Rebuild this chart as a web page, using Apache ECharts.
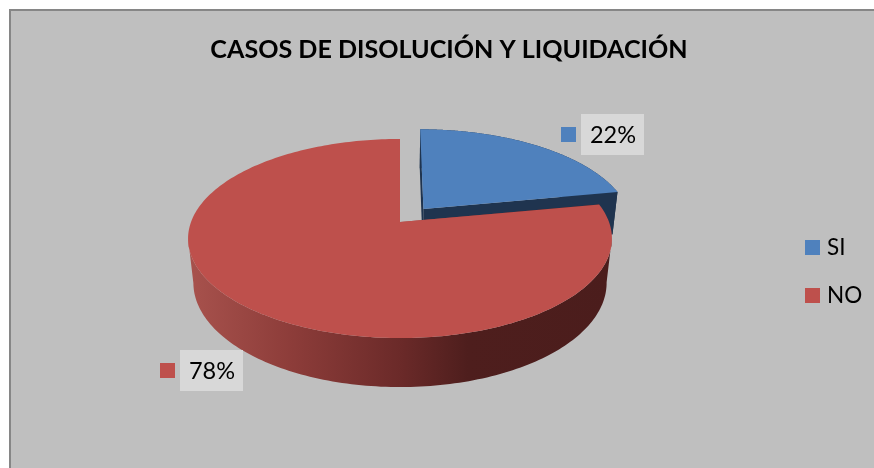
<!DOCTYPE html>
<html>
<head>
<meta charset="utf-8">
<style>html,body{margin:0;padding:0;background:#fff}#c{width:874px;height:468px}</style>
<script src="https://cdn.jsdelivr.net/npm/echarts@6/dist/echarts.min.js"></script>
</head>
<body>
<div id="c"></div>
<script>
const titleText = 'CASOS DE DISOLUCIÓN Y LIQUIDACIÓN';
const categories = ['SI', 'NO'];
const values = [22, 78];
const topColors = ['#4f81bd', '#be504c'];
const wallColors = ['#1f344f', null];
const labelBoxes = [[581, 114], [180, 350]];

const total = values.reduce((a, b) => a + b, 0);
const CX = 400, CY = 222, A = 209, B = 96.8, K = 0.166, M = 0.025, H = 45;
const EXPLODE = [0.18, 0];

function project(X, Y, Z) {
  const w = 1 + K * Y + M * Z;
  return [CX + A * X / w, CY + (-B * Y + H * Z) / w];
}
function extremes(pts) {
  let lo = 0, hi = 0;
  pts.forEach((p, n) => { if (p[0] > pts[lo][0]) lo = n; if (p[0] < pts[hi][0]) hi = n; });
  return [Math.min(lo, hi), Math.max(lo, hi)];
}
function renderSlice(i) {
  return function (params, api) {
    const value = api.value(0);
    let before = 0;
    for (let j = 0; j < i; j++) before += values[j];
    const a0 = before / total * 2 * Math.PI;
    const a1 = (before + value) / total * 2 * Math.PI;
    const mid = (a0 + a1) / 2;
    const ox = Math.sin(mid) * EXPLODE[i], oy = Math.cos(mid) * EXPLODE[i];
    const N = 240;
    const arc = [], arcLow = [];
    for (let n = 0; n <= N; n++) {
      const t = a0 + (a1 - a0) * n / N;
      arc.push(project(ox + Math.sin(t), oy + Math.cos(t), 0));
      arcLow.push(project(ox + Math.sin(t), oy + Math.cos(t), 1));
    }
    const apex = project(ox, oy, 0), apexLow = project(ox, oy, 1);
    const wallFill = wallColors[i] || {
      type: 'linear', x: 0, y: 0, x2: 1, y2: 0,
      colorStops: [
        { offset: 0, color: '#a8524d' },
        { offset: 0.25, color: '#8c3c39' },
        { offset: 0.5, color: '#6b2a29' },
        { offset: 0.66, color: '#4e1e1d' },
        { offset: 1, color: '#4b1d1c' }
      ]
    };
    const et = extremes(arc), el = extremes(arcLow);
    const wall = arc.slice(et[0], et[1] + 1).concat(arcLow.slice(el[0], el[1] + 1).reverse());
    const children = [];
    children.push({ type: 'polygon', shape: { points: [apex, arc[0], arcLow[0], apexLow] }, style: { fill: wallFill } });
    children.push({ type: 'polygon', shape: { points: [apex, arc[N], arcLow[N], apexLow] }, style: { fill: wallFill } });
    children.push({ type: 'polygon', shape: { points: wall }, style: { fill: wallFill } });
    children.push({ type: 'polygon', shape: { points: [apex].concat(arc) }, style: { fill: topColors[i] } });
    const bx = labelBoxes[i][0], by = labelBoxes[i][1];
    children.push({ type: 'rect', shape: { x: bx - 20, y: by + 13, width: 15, height: 15 }, style: { fill: topColors[i] }, z2: 10 });
    children.push({ type: 'rect', shape: { x: bx, y: by, width: 63, height: 41 }, style: { fill: '#d8d8d8' }, z2: 10 });
    children.push({ type: 'text', x: bx + 32, y: by + 21, z2: 11,
      style: { text: value + '%', fill: '#000', font: '23.5px Lato, Carlito, sans-serif', align: 'center', verticalAlign: 'middle' } });
    return { type: 'group', children };
  };
}

const chart = echarts.init(document.getElementById('c'), null, { renderer: 'canvas' });
chart.setOption({
  animation: false,
  backgroundColor: '#ffffff',
  graphic: [{
    type: 'rect', z: -10, silent: true,
    shape: { x: 10, y: 10, width: 900, height: 500 },
    style: { fill: '#bfbfbf', stroke: '#868686', lineWidth: 2 }
  }],
  title: {
    text: titleText, left: 444, top: 32, textAlign: 'center',
    textStyle: { fontFamily: 'Lato, Carlito, sans-serif', fontWeight: 'bold', fontSize: 25.1, color: '#000' }
  },
  legend: {
    data: categories, orient: 'vertical', left: 800, top: 231, itemWidth: 15, itemHeight: 15, itemGap: 25,
    icon: 'rect', selectedMode: false,
    textStyle: { fontFamily: 'Lato, Carlito, sans-serif', fontSize: 22.5, color: '#000', padding: [0, 0, 0, 2] }
  },
  color: topColors,
  series: categories.map((name, i) => ({
    type: 'custom', name, coordinateSystem: 'none', z: 2 + i,
    itemStyle: { color: topColors[i] },
    data: [[values[i]]],
    renderItem: renderSlice(i)
  }))
});
</script>
</body>
</html>
